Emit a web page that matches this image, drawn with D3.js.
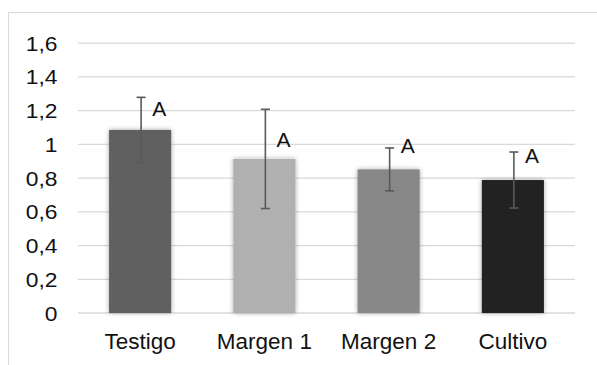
<!DOCTYPE html>
<html><head><meta charset="utf-8">
<script src="https://cdn.jsdelivr.net/npm/d3@7"></script>
<style>body{margin:0;background:#fff}svg{display:block}text{font-family:"Liberation Sans",Arial,sans-serif}</style>
</head><body>
<svg id="c" width="597" height="365"></svg>
<script>
const categories = ["Testigo", "Margen 1", "Margen 2", "Cultivo"];
const values = [1.085, 0.913, 0.851, 0.788];
const errors = [0.193, 0.294, 0.127, 0.166];
const letters = ["A", "A", "A", "A"];
const letterAt = [1.166, 0.985, 0.948, 0.889];
const colors = ["#606060", "#b0b0b0", "#888888", "#222222"];
const yTicks = [0, 0.2, 0.4, 0.6, 0.8, 1, 1.2, 1.4, 1.6];

const svg = d3.select("#c");
const m = {left: 78, right: 575, top: 43, bottom: 313};

// outer chart border
svg.append("path").attr("d", "M8.5,365 V12.5 H597").attr("fill","none").attr("stroke","#d9d9d9").attr("stroke-width",1);

const defs = svg.append("defs");
const f = defs.append("filter").attr("id","sh").attr("x","-30%").attr("y","-10%").attr("width","160%").attr("height","120%");
f.append("feGaussianBlur").attr("in","SourceAlpha").attr("stdDeviation",2.5).attr("result","b");
f.append("feComponentTransfer").attr("in","b").attr("result","t").append("feFuncA").attr("type","linear").attr("slope",0.35);
const mg = f.append("feMerge"); mg.append("feMergeNode").attr("in","t"); mg.append("feMergeNode").attr("in","SourceGraphic");

const x = d3.scaleBand().domain(categories).range([m.left, m.right]).paddingInner(0.5).paddingOuter(0.25);
const y = d3.scaleLinear().domain([0, 1.6]).range([m.bottom, m.top]);
const fmt = d => d3.format("")(d).replace(".", ",");

// gridlines
svg.append("g").selectAll("line").data(yTicks).join("line")
  .attr("x1", m.left).attr("x2", m.right)
  .attr("y1", d => y(d)).attr("y2", d => y(d))
  .attr("stroke", "#d9d9d9").attr("stroke-width", d => d === 0 ? 1.5 : 1.25);

// y axis labels
const yAxis = d3.axisLeft(y).tickValues(yTicks).tickFormat(fmt).tickSize(0).tickPadding(0);
const ga = svg.append("g").attr("transform", `translate(${m.left - 20.5},0)`).call(yAxis);
ga.select(".domain").remove();
ga.selectAll("text").attr("font-size", 19.5).attr("fill", "#111")
  .attr("font-family", '"Liberation Sans",Arial,sans-serif')
  .attr("dy", null).attr("y", 7)
  .each(function(){ const w = this.getComputedTextLength(); d3.select(this).attr("textLength", w * 1.17).attr("lengthAdjust", "spacingAndGlyphs"); });

// bars
svg.append("g").selectAll("rect").data(categories).join("rect")
  .attr("x", d => x(d)).attr("width", x.bandwidth())
  .attr("y", (d,i) => y(values[i])).attr("height", (d,i) => y(0) - y(values[i]))
  .attr("fill", (d,i) => colors[i]).attr("filter", "url(#sh)");

// error bars
const eb = svg.append("g").attr("stroke", "#595959").attr("stroke-width", 1.6).attr("fill","none");
categories.forEach((c, i) => {
  const cx = x(c) + x.bandwidth() / 2 + 1;
  const t = y(values[i] + errors[i]), b = y(values[i] - errors[i]);
  eb.append("line").attr("x1", cx).attr("x2", cx).attr("y1", t).attr("y2", b);
  eb.append("line").attr("x1", cx - 4.5).attr("x2", cx + 4.5).attr("y1", t).attr("y2", t);
  eb.append("line").attr("x1", cx - 4.5).attr("x2", cx + 4.5).attr("y1", b).attr("y2", b);
});

// letters
svg.append("g").selectAll("text").data(categories).join("text")
  .attr("x", d => x(d) + x.bandwidth() / 2 + 12)
  .attr("y", (d,i) => y(letterAt[i]))
  .attr("font-size", 21).attr("fill", "#111")
  .text((d,i) => letters[i]);

// x axis labels
const xAxis = d3.axisBottom(x).tickSize(0).tickPadding(0);
const gx = svg.append("g").attr("transform", `translate(0,${m.bottom})`).call(xAxis);
gx.select(".domain").remove();
gx.selectAll("text").attr("font-size", 22.5).attr("fill", "#111")
  .attr("font-family", '"Liberation Sans",Arial,sans-serif')
  .attr("dy", null).attr("y", 36);
</script>
</body></html>
